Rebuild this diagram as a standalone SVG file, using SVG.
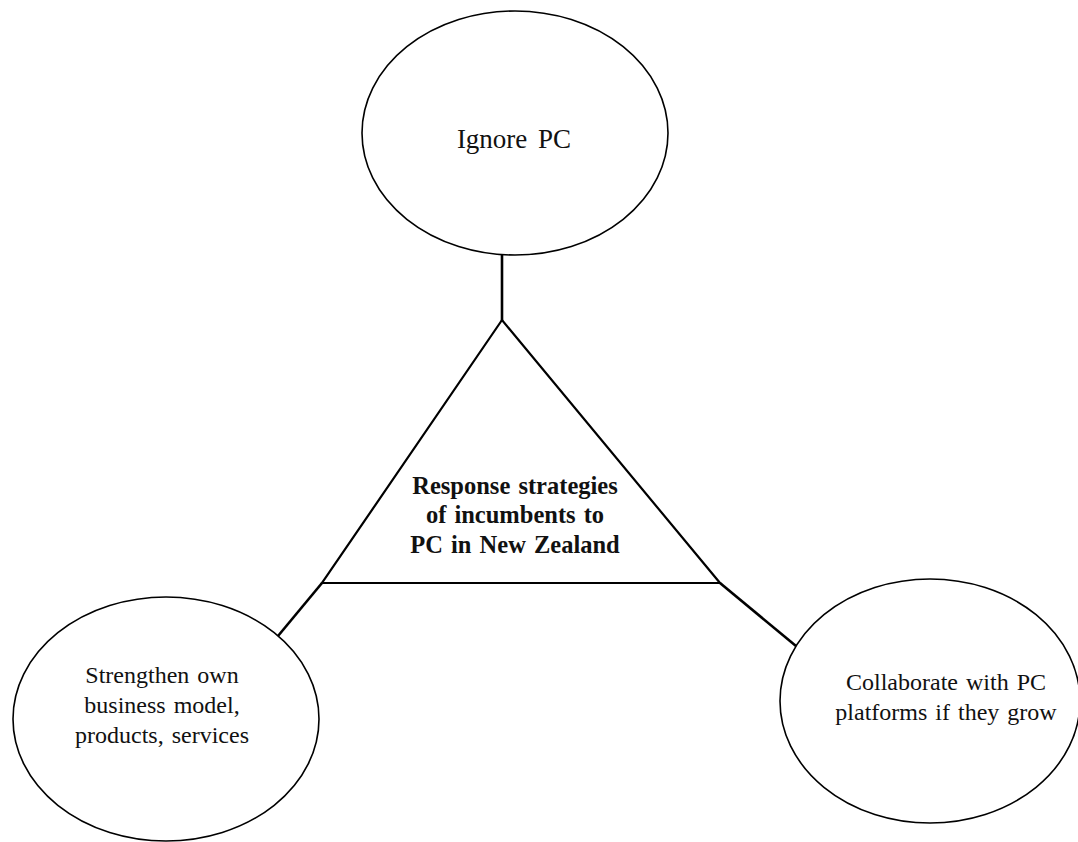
<svg xmlns="http://www.w3.org/2000/svg" width="1078" height="842" viewBox="0 0 1078 842">
<style>
.node{fill:#fff;stroke:#000;stroke-width:1.6}
.tri{fill:#fff;stroke:#000;stroke-width:2.2;stroke-linejoin:miter}
.conn{stroke:#000;stroke-width:2.6;fill:none}
.t{font-family:"Liberation Serif","Times New Roman",serif;font-size:24px;fill:#111;text-anchor:middle;word-spacing:2px}
.b{font-weight:bold;font-size:24.5px}
</style>
<rect width="1078" height="842" fill="#fff"/>
<g id="connectors">
<line class="conn" x1="502" y1="254" x2="502" y2="321"/>
<line class="conn" x1="322" y1="583" x2="278" y2="636"/>
<line class="conn" x1="720" y1="583" x2="796" y2="646"/>
</g>
<g id="ignore">
<ellipse class="node" cx="515" cy="133" rx="153" ry="122"/>
<text class="t" x="514" y="148" style="font-size:27px;word-spacing:4px">Ignore PC</text>
</g>
<g id="center">
<polygon class="tri" points="502,320 322,583 720,583"/>
<text class="t b" x="515" y="494">Response strategies</text>
<text class="t b" x="515" y="523">of incumbents to</text>
<text class="t b" x="515" y="553">PC in New Zealand</text>
</g>
<g id="strengthen">
<ellipse class="node" cx="166" cy="719" rx="153" ry="122"/>
<text class="t" x="162" y="683">Strengthen own</text>
<text class="t" x="162" y="713">business model,</text>
<text class="t" x="162" y="743">products, services</text>
</g>
<g id="collaborate">
<ellipse class="node" cx="930" cy="701" rx="150" ry="122"/>
<text class="t" x="946" y="690">Collaborate with PC</text>
<text class="t" x="946" y="720">platforms if they grow</text>
</g>
</svg>
